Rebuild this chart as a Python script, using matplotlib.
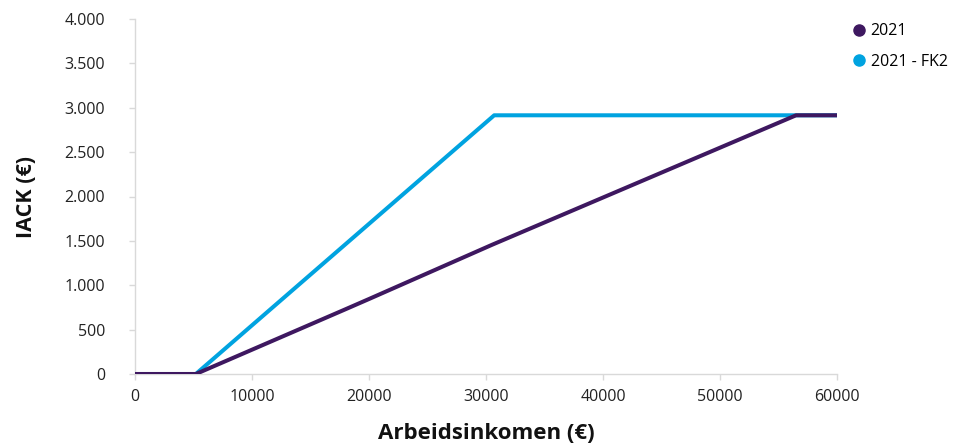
import matplotlib
matplotlib.use("Agg")
import matplotlib.pyplot as plt
from matplotlib.lines import Line2D
from matplotlib.ticker import FuncFormatter

# Data
inc_2021 = [0, 5200, 18000, 20000, 30500, 56500, 60000]
iack_2021 = [0, 0, 730, 845, 1455, 2915, 2915]
inc_fk2 = [0, 5200, 30700, 60000]
iack_fk2 = [0, 0, 2915, 2915]
series_names = ["2021", "2021 - FK2"]
colors = ["#3E1860", "#00A3E0"]
x_ticks = [0, 10000, 20000, 30000, 40000, 50000, 60000]
y_ticks = [0, 500, 1000, 1500, 2000, 2500, 3000, 3500, 4000]

plt.rcParams['font.family'] = ['Open Sans', 'DejaVu Sans']

fig = plt.figure(figsize=(9.63, 4.45), dpi=100)
ax = fig.add_axes([135/963, 1 - 374/445, (837-135)/963, (374-19)/445])

ax.plot(inc_fk2, iack_fk2, color=colors[1], lw=2.9, solid_capstyle='round', zorder=2)
ax.plot(inc_2021, iack_2021, color=colors[0], lw=2.9, solid_capstyle='round', zorder=3)

ax.set_xlim(0, 60000)
ax.set_ylim(0, 4000)
ax.set_xticks(x_ticks)
ax.set_yticks(y_ticks)
ax.yaxis.set_major_formatter(FuncFormatter(lambda v, p: f"{int(v):,}".replace(",", ".")))
ax.xaxis.set_major_formatter(FuncFormatter(lambda v, p: f"{int(v)}"))

for s in ['top', 'right']:
    ax.spines[s].set_visible(False)
for s in ['left', 'bottom']:
    ax.spines[s].set_color('#d9d9d9')
    ax.spines[s].set_linewidth(1.0)
ax.tick_params(axis='both', colors='#d9d9d9', length=4.5, width=1, labelcolor='#222222', labelsize=11.5)
ax.tick_params(axis='y', pad=17)
ax.tick_params(axis='x', pad=6)

ax.set_xlabel("Arbeidsinkomen (€)", fontsize=16, fontweight='bold', color='#111111')
ax.set_ylabel("IACK (€)", fontsize=15.5, fontweight='bold', color='#111111')
ax.xaxis.set_label_coords(0.5, -(423 - 374) / 355)
ax.yaxis.set_label_coords(-(135 - 37) / 702, 0.5)

handles = [Line2D([], [], marker='o', linestyle='none', markersize=8, color=c) for c in colors]
leg = fig.legend(handles, series_names, loc='upper left', bbox_to_anchor=(845/963, 1 - 17/445),
                 frameon=False, fontsize=11.5, handletextpad=0.2, labelspacing=0.9,
                 borderaxespad=0, handlelength=1.0)

fig.savefig("out.png", dpi=100)
